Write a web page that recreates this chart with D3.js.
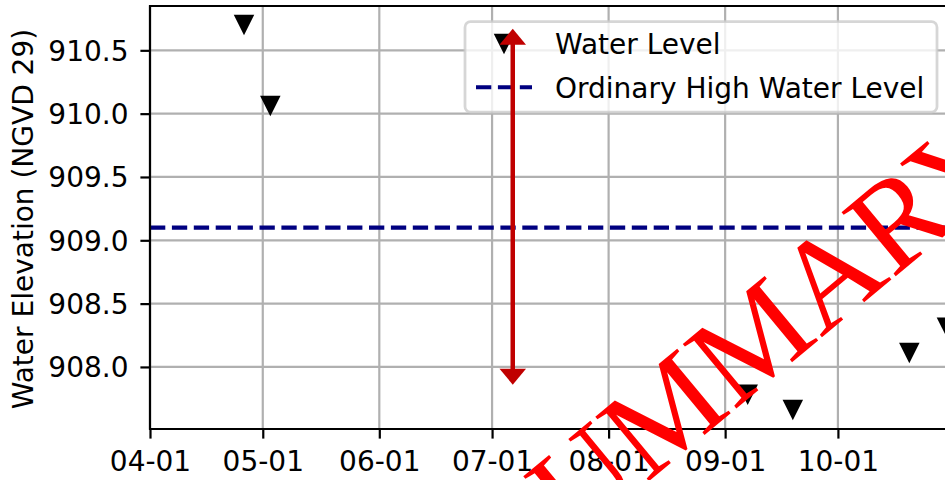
<!DOCTYPE html>
<html>
<head>
<meta charset="utf-8">
<title>Water Level</title>
<script src="https://cdn.jsdelivr.net/npm/d3@7"></script>
<style>
  body, html { margin: 0; padding: 0; background: #fff; overflow: hidden; }
  text { font-family: "DejaVu Sans", sans-serif; }
</style>
</head>
<body>
<svg id="chart" width="945" height="480"></svg>
<script>

// Water level readings
const readDates = ["2021-04-26", "2021-05-03", "2021-09-07", "2021-09-19", "2021-10-20", "2021-10-30"];
const readLevels = [910.70, 910.06, 907.78, 907.66, 908.11, 908.31];

// Ordinary high water level
const ohwl = 909.1;

// Range arrow
const arrowDate = "2021-07-06T12:00";
const arrowLevels = [907.86, 910.67];

// Ticks
const xTickDates = ["2021-04-01", "2021-05-01", "2021-06-01", "2021-07-01", "2021-08-01", "2021-09-01", "2021-10-01"];
const yTickValues = [908.0, 908.5, 909.0, 909.5, 910.0, 910.5];

const legendLabels = ["Water Level", "Ordinary High Water Level"];

const parse = d3.isoParse;
const fs = 28;

const margin = {left: 150, top: 6, bottom: 429, right: 951};

const x = d3.scaleTime()
    .domain([parse("2021-04-01"), parse("2021-10-31T02:00")])
    .range([margin.left, margin.right]);

const y = d3.scaleLinear()
    .domain([907.51, 910.85])
    .range([margin.bottom, margin.top]);

const svg = d3.select("#chart");

svg.append("rect")
    .attr("width", 945)
    .attr("height", 480)
    .attr("fill", "#fff");

svg.append("clipPath").attr("id", "plotClip")
  .append("rect")
    .attr("x", margin.left)
    .attr("y", margin.top)
    .attr("width", margin.right - margin.left)
    .attr("height", margin.bottom - margin.top);

// Grid
const grid = svg.append("g")
    .attr("stroke", "#b0b0b0")
    .attr("stroke-width", 2.2);

grid.selectAll(".vgrid")
    .data(xTickDates)
  .enter().append("line")
    .attr("x1", d => x(parse(d)))
    .attr("x2", d => x(parse(d)))
    .attr("y1", margin.top)
    .attr("y2", margin.bottom);

grid.selectAll(".hgrid")
    .data(yTickValues)
  .enter().append("line")
    .attr("x1", margin.left)
    .attr("x2", margin.right)
    .attr("y1", d => y(d))
    .attr("y2", d => y(d));

const plot = svg.append("g").attr("clip-path", "url(#plotClip)");

// OHWL line
plot.append("line")
    .attr("x1", margin.left)
    .attr("x2", margin.right)
    .attr("y1", y(ohwl))
    .attr("y2", y(ohwl))
    .attr("stroke", "#000080")
    .attr("stroke-width", 4.1)
    .attr("stroke-dasharray", "15.3,6.6");

// Triangle down marker
const ms = 20.5;
const triDown = `M${-ms / 2},${-ms / 2}L${ms / 2},${-ms / 2}L0,${ms / 2}Z`;

plot.selectAll(".pt")
    .data(readDates.map((d, i) => ({date: parse(d), level: readLevels[i]})))
  .enter().append("path")
    .attr("class", "pt")
    .attr("d", triDown)
    .attr("transform", d => "translate(" + x(d.date) + "," + y(d.level) + ")")
    .attr("fill", "#000");

// Axes
const xAxis = d3.axisBottom(x)
    .tickValues(xTickDates.map(parse))
    .tickFormat(d3.timeFormat("%m-%d"))
    .tickSize(9.6)
    .tickPadding(8);

const yAxis = d3.axisLeft(y)
    .tickValues(yTickValues)
    .tickFormat(d3.format(".1f"))
    .tickSize(9.6)
    .tickPadding(10);

const gx = svg.append("g")
    .attr("transform", "translate(0," + margin.bottom + ")")
    .call(xAxis);

const gy = svg.append("g")
    .attr("transform", "translate(" + margin.left + ",0)")
    .call(yAxis);

[gx, gy].forEach(g => {
  g.select(".domain").remove();
  g.selectAll(".tick line").attr("stroke", "#000").attr("stroke-width", 2.2);
  g.selectAll(".tick text")
      .attr("fill", "#000")
      .style("font-family", "DejaVu Sans")
      .style("font-size", fs + "px");
});
gx.selectAll(".tick text").attr("dy", null).attr("y", 42);
gy.selectAll(".tick text").attr("dy", null).attr("y", 10).attr("x", -21.5);

// Spines
svg.append("line")
    .attr("x1", margin.left).attr("x2", margin.left)
    .attr("y1", margin.top - 1.1).attr("y2", margin.bottom + 1.1)
    .attr("stroke", "#000").attr("stroke-width", 2.2);
svg.append("line")
    .attr("x1", margin.left).attr("x2", margin.right)
    .attr("y1", margin.bottom).attr("y2", margin.bottom)
    .attr("stroke", "#000").attr("stroke-width", 2.2);
svg.append("line")
    .attr("x1", margin.left).attr("x2", margin.right)
    .attr("y1", margin.top).attr("y2", margin.top)
    .attr("stroke", "#000").attr("stroke-width", 2.2);

// Y label
svg.append("text")
    .attr("transform", "translate(33," + ((margin.top + margin.bottom) / 2 + 1.5) + ")rotate(-90)")
    .attr("text-anchor", "middle")
    .style("font-size", fs + "px")
    .attr("fill", "#000")
    .text("Water Elevation (NGVD 29)");

// Legend
const legend = svg.append("g");
const lgBox = {x: 465, y: 21.7, w: 472, h: 90.5};

legend.append("rect")
    .attr("x", lgBox.x)
    .attr("y", lgBox.y)
    .attr("width", lgBox.w)
    .attr("height", lgBox.h)
    .attr("rx", 5.5)
    .attr("fill", "rgba(255,255,255,0.8)")
    .attr("stroke", "rgba(204,204,204,0.8)")
    .attr("stroke-width", 2.75);

const rowY = [44, 87.3];
const handleX = [476, 532];

legend.append("path")
    .attr("d", triDown)
    .attr("transform", "translate(" + d3.mean(handleX) + "," + rowY[0] + ")")
    .attr("fill", "#000");

legend.append("line")
    .attr("x1", handleX[0]).attr("x2", handleX[1])
    .attr("y1", rowY[1]).attr("y2", rowY[1])
    .attr("stroke", "#000080")
    .attr("stroke-width", 4.1)
    .attr("stroke-dasharray", "15.3,6.6");

legend.selectAll(".lgtext")
    .data(legendLabels)
  .enter().append("text")
    .attr("x", 555)
    .attr("y", (d, i) => rowY[i] + 10.3)
    .style("font-size", fs + "px")
    .attr("fill", "#000")
    .text(d => d);

// Range arrow
const arrowColor = "#c00000";
const ax = x(parse(arrowDate));
const headLen = 16, headW = 26.5;
const yTop = y(arrowLevels[1]), yBot = y(arrowLevels[0]);

svg.append("line")
    .attr("x1", ax).attr("x2", ax)
    .attr("y1", yTop + headLen - 1).attr("y2", yBot - headLen + 1)
    .attr("stroke", arrowColor)
    .attr("stroke-width", 4.5);

svg.append("path")
    .attr("d", `M${ax},${yTop}L${ax + headW / 2},${yTop + headLen}L${ax - headW / 2},${yTop + headLen}Z`)
    .attr("fill", arrowColor);

svg.append("path")
    .attr("d", `M${ax},${yBot}L${ax + headW / 2},${yBot - headLen}L${ax - headW / 2},${yBot - headLen}Z`)
    .attr("fill", arrowColor);

// Watermark
svg.append("text")
    .attr("transform", "translate(520,588)rotate(-39.7)")
    .style("font-family", "'Liberation Serif', 'Times New Roman', serif")
    .style("font-size", "128px")
    .attr("fill", "#ff0000")
    .text("SUMMARY");

</script>
</body>
</html>
